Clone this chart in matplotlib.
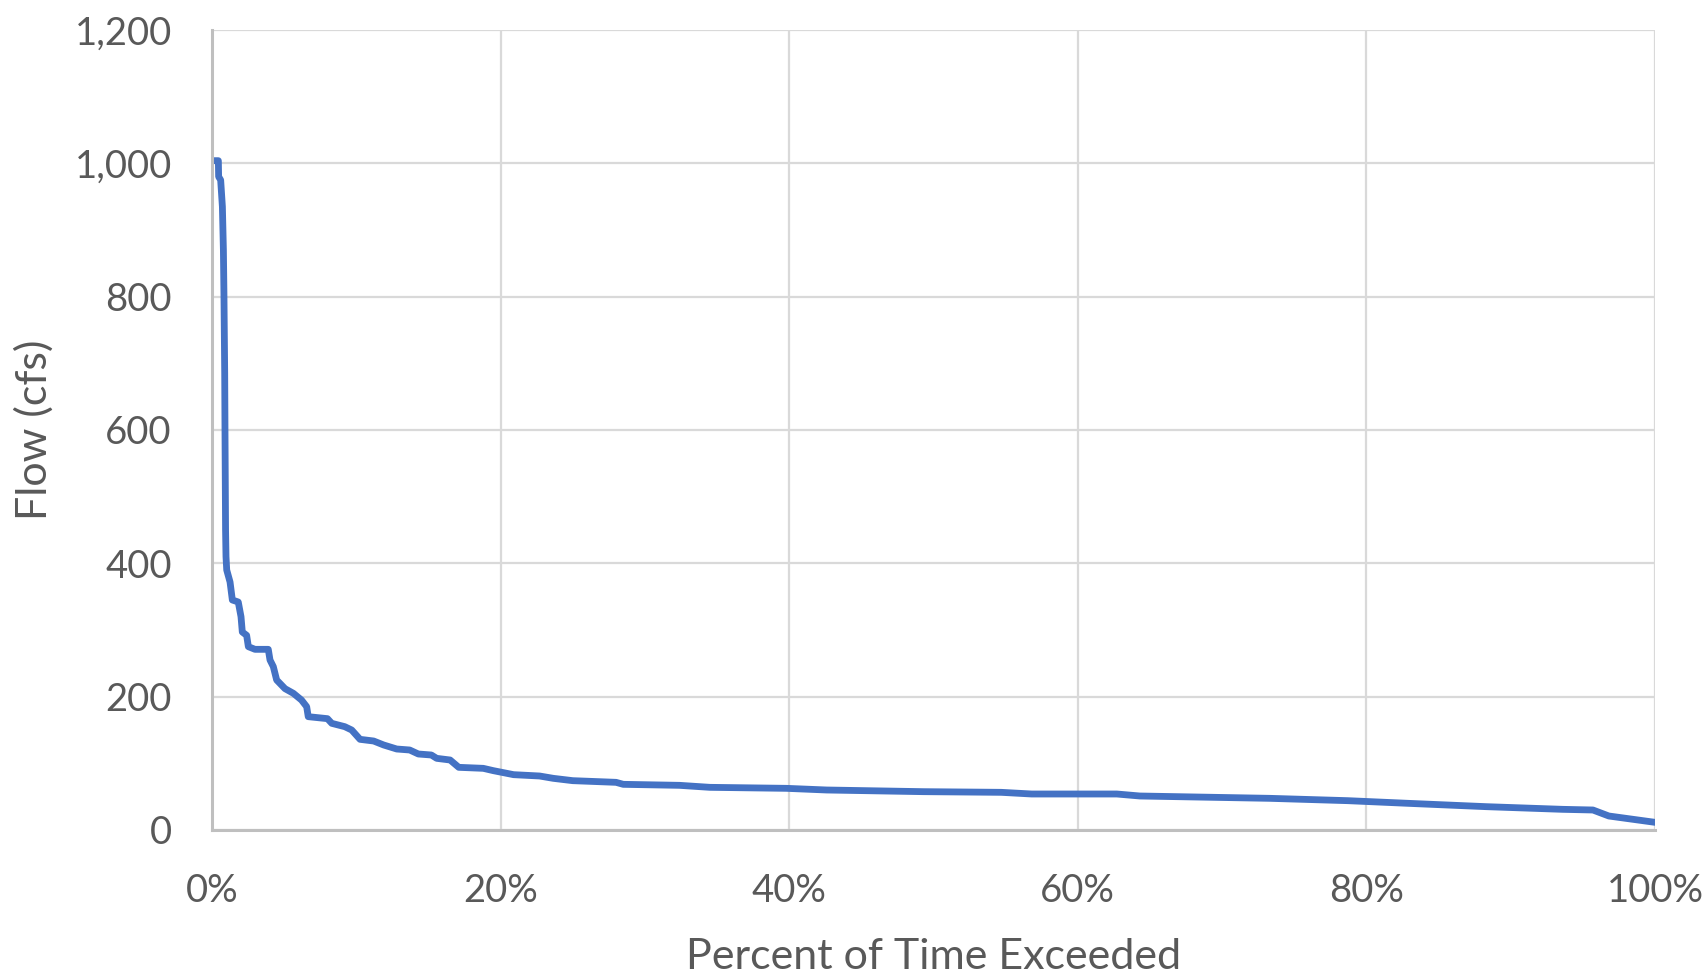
import matplotlib
matplotlib.use('Agg')
from matplotlib import pyplot as plt
from matplotlib.ticker import FuncFormatter, PercentFormatter, MultipleLocator

# flow duration curve (percent of time exceeded, flow in cfs)
pct_exceeded = [0.14, 0.44, 0.46, 0.6, 0.72, 0.79, 0.83, 0.88, 0.9, 0.94, 0.97, 1.02,
                1.25, 1.41, 1.82, 2.01, 2.10, 2.40, 2.52, 2.98, 3.9, 4.02, 4.25, 4.48,
                5.06, 5.64, 6.2, 6.56, 6.67, 8.0, 8.3, 9.2, 9.68, 10.26, 11.2, 11.9,
                12.8, 13.7, 14.3, 15.2, 15.57, 16.5, 17.1, 18.8, 19.5, 20.2, 20.9,
                22.7, 23.65, 25.0, 28.0, 28.5, 32.4, 34.5, 39.8, 42.6, 49.3, 54.7,
                56.8, 62.7, 64.3, 73.3, 78.7, 82.9, 88.3, 93.6, 95.7, 96.8, 100.0]
flow_cfs = [1004, 1004, 980, 975, 935, 870, 800, 685, 600, 450, 410, 390,
            372, 345, 342, 320, 297, 292, 275, 271, 271, 255, 245, 225,
            212, 205, 195, 185, 170, 167, 160, 155, 150, 136, 133.5, 127.5,
            121.5, 120, 114, 112.5, 107.5, 105, 94, 92.5, 89, 86, 83,
            81, 77.5, 74, 71.5, 68.5, 67, 64, 62.5, 60, 57.5, 56.5,
            54, 54, 51, 47.5, 44, 40, 35, 31, 30, 21, 11.5]

x_title = 'Percent of Time Exceeded'
y_title = 'Flow (cfs)'

text_color = '#595959'
plt.rcParams['font.family'] = ['Lato', 'DejaVu Sans']

fig = plt.figure(figsize=(17.07, 9.75), dpi=100)
ax = fig.add_axes([212 / 1707, 1 - 830 / 975, (1655 - 212) / 1707, 800 / 975])

# line
ax.plot([p / 100 for p in pct_exceeded], flow_cfs, color='#4472C4', linewidth=4.9,
        solid_capstyle='round', solid_joinstyle='round', zorder=3)

# axes limits and ticks
ax.set_xlim(0, 1)
ax.set_ylim(0, 1200)
ax.xaxis.set_major_locator(MultipleLocator(0.2))
ax.yaxis.set_major_locator(MultipleLocator(200))
ax.xaxis.set_major_formatter(PercentFormatter(1.0, decimals=0))
ax.yaxis.set_major_formatter(FuncFormatter(lambda v, _: f'{int(v):,}'))

# grid like excel
ax.grid(True, color='#D9D9D9', linewidth=1.6)
ax.set_axisbelow(True)
for side in ['top', 'right']:
    ax.spines[side].set_visible(False)
for side in ['left', 'bottom']:
    ax.spines[side].set_color('#BFBFBF')
    ax.spines[side].set_linewidth(2.2)
    ax.spines[side].set_zorder(4)

ax.tick_params(length=0, labelsize=27.5, labelcolor=text_color)
ax.tick_params(axis='y', pad=29)
ax.tick_params(axis='x', pad=31)

ax.set_xlabel(x_title, fontsize=31, color=text_color, labelpad=21)
ax.set_ylabel(y_title, fontsize=31, color=text_color, labelpad=15)

plt.savefig('out.png', dpi=100)
